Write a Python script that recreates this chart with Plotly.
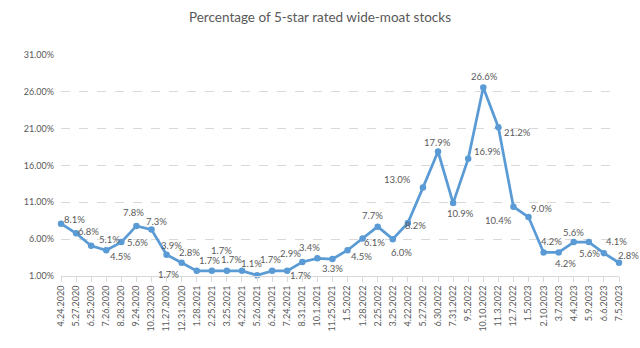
import plotly.graph_objects as go

dates = ["4.24.2020", "5.27.2020", "6.25.2020", "7.26.2020", "8.28.2020", "9.24.2020",
         "10.23.2020", "11.27.2020", "12.31.2020", "1.28.2021", "2.25.2021", "3.25.2021",
         "4.22.2021", "5.26.2021", "6.24.2021", "7.24.2021", "8.31.2021", "10.1.2021",
         "11.25.2021", "1.5.2022", "1.28.2022", "2.25.2022", "3.25.2022", "4.22.2022",
         "5.27.2022", "6.30.2022", "7.31.2022", "9.5.2022", "10.10.2022", "11.3.2022",
         "12.7.2022", "1.5.2023", "2.10.2023", "3.7.2023", "4.4.2023", "5.9.2023",
         "6.6.2023", "7.5.2023"]
pct = [8.1, 6.8, 5.1, 4.5, 5.6, 7.8, 7.3, 3.9, 2.8, 1.7, 1.7, 1.7, 1.7, 1.1, 1.7, 1.7,
       2.9, 3.4, 3.3, 4.5, 6.1, 7.7, 6.0, 8.2, 13.0, 17.9, 10.9, 16.9, 26.6, 21.2, 10.4,
       9.0, 4.2, 4.2, 5.6, 5.6, 4.1, 2.8]
y_ticks = [1, 6, 11, 16, 21, 26, 31]

# label offsets in screen pixels (dx right, dy down) - styling only
label_offsets = [(13, -4), (12, -2), (18, -6), (14, 6), (16, 0), (-3, -13), (5, -8), (5, -9),
                 (8, -10), (-28, 4), (-2, -10), (-5, -20), (-10, -11), (-6, -12), (-2, -11),
                 (13, 5), (-12, -9), (-8, -11), (0, 9), (14, 6), (12, 4), (-5, -11), (9, 13),
                 (8, 3), (-25, -8), (-1, -9), (7, 10), (19, -7), (1, -11), (19, 5), (-15, 14),
                 (13, -9), (8, -11), (7, 11), (0, -10), (1, 11), (13, -12), (9, -7)]

FONT = "Lato, Carlito, Calibri, sans-serif"
GRAY = "#595959"

fig = go.Figure()
fig.add_trace(go.Scatter(
    x=dates, y=pct, mode="lines+markers",
    line=dict(color="#5B9BD5", width=2.75),
    marker=dict(color="#5B9BD5", size=6.5),
    cliponaxis=False, hoverinfo="skip",
))

annotations = []
for d, v, (dx, dy) in zip(dates, pct, label_offsets):
    annotations.append(dict(x=d, y=v, text=f"{v:.1f}%", showarrow=False,
                            xshift=dx, yshift=-dy,
                            font=dict(family=FONT, size=9.5, color=GRAY)))

fig.update_layout(
    width=640, height=348,
    margin=dict(l=61, r=21, t=55, b=72),
    paper_bgcolor="white", plot_bgcolor="white",
    showlegend=False,
    title=dict(text="Percentage of 5-star rated wide-moat stocks", x=0.5, xanchor="center",
               y=0.95, yanchor="middle",
               font=dict(family=FONT, size=13.5, color=GRAY)),
    annotations=annotations,
    xaxis=dict(type="category", range=[0, len(dates) - 1], tickangle=-90,
               tickfont=dict(family=FONT, size=9, color=GRAY),
               showgrid=False, showline=True, linecolor="#D9D9D9", linewidth=1,
               ticks="outside", ticklen=5, tickcolor="#D9D9D9", zeroline=False),
    yaxis=dict(range=[1, 31], tickvals=y_ticks,
               ticktext=[f"{t:.2f}%" for t in y_ticks],
               tickfont=dict(family=FONT, size=9, color=GRAY),
               showgrid=True, gridcolor="#D9D9D9", griddash="dash", gridwidth=1,
               zeroline=False, showline=False, ticks="", ticklabelstandoff=6),
)

fig.write_html("out.html")
